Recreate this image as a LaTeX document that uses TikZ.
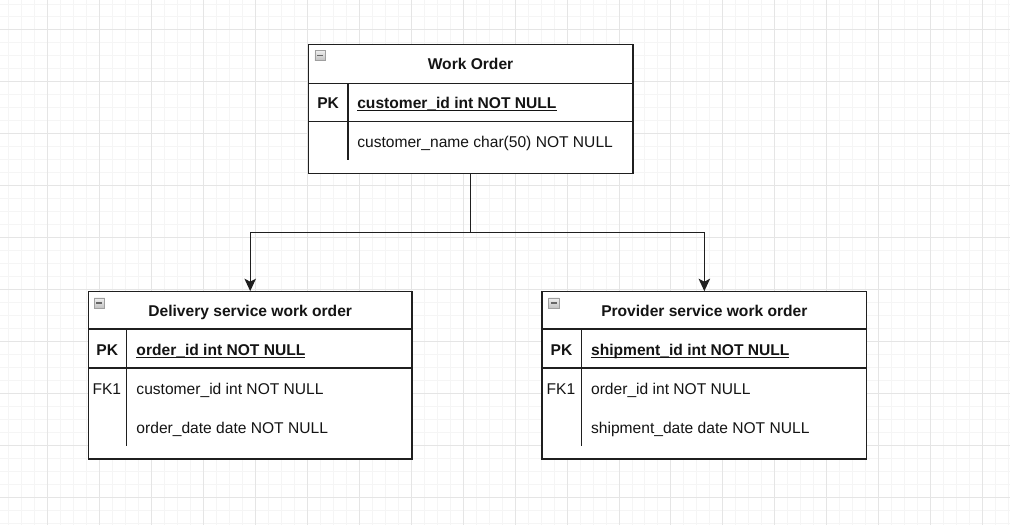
\documentclass[tikz,border=0pt]{standalone}
\usepackage{fontspec}
\setmainfont{Liberation Sans}
\usepackage{tikz}
\usetikzlibrary{arrows.meta}

% underline for primary key fields
\newcommand{\keyline}[1]{\setbox0=\hbox{#1}\rlap{\rule[-2.3pt]{\wd0}{1.2pt}}\box0}

\begin{document}
\begin{tikzpicture}[x=1pt,y=-1pt,
  txt/.style={inner sep=0pt,text=black!92,font=\fontsize{15.6}{18}\selectfont},
  tbl/.style={draw=black!88,line width=1.3pt,inner sep=0pt,outer sep=0pt},
  tline/.style={draw=black!88,line width=1.3pt},
  tabtitle/.style={txt,anchor=base,font=\fontsize{15.6}{18}\selectfont\bfseries},
  keytext/.style={txt,anchor=base,font=\fontsize{15.6}{18}\selectfont\bfseries},
  keyfield/.style={txt,anchor=base west,font=\fontsize{15.6}{18}\selectfont\bfseries},
  fktext/.style={txt,anchor=base},
  fieldtext/.style={txt,anchor=base west},
  minbox/.style={draw=gray!75,line width=0.6pt,minimum size=10.5pt,inner sep=0pt,
    top color=gray!12,bottom color=gray!50,
    path picture={\draw[black!60,line width=1.6pt]
      ([xshift=2.2pt]path picture bounding box.west) -- ([xshift=-2.2pt]path picture bounding box.east);}},
  gridminor/.style={draw=black!4,line width=0.8pt},
  gridmajor/.style={draw=black!10,line width=0.8pt},
  link/.style={draw=black!88,line width=1.4pt,-{Stealth[length=12.5pt,width=11.5pt,inset=3pt]}}]

% background grid
\fill[white] (0,0) rectangle (1010,525);
\foreach \x in {8,21,...,1010} \draw[gridminor] (\x,0) -- (\x,525);
\foreach \y in {3.5,16.5,...,525} \draw[gridminor] (0,\y) -- (1010,\y);
\foreach \x in {47,99,...,1010} \draw[gridmajor] (\x,0) -- (\x,525);
\foreach \y in {29.5,81.5,...,525} \draw[gridmajor] (0,\y) -- (1010,\y);
\useasboundingbox (0,0) rectangle (1010,525);

% Work Order
\node[tbl,fill=white,minimum width=325pt,minimum height=129pt] (wo) at (470.5,108.5) {};
\draw[tline] ([yshift=-39pt]wo.north west) -- ([yshift=-39pt]wo.north east);
\draw[tline] ([yshift=-77pt]wo.north west) -- ([yshift=-77pt]wo.north east);
\draw[tline] ([xshift=40pt,yshift=-39pt]wo.north west) -- ++(0,77);
\node[minbox] (wo-min) at (320,55) {};
\node[tabtitle] (wo-title) at (470.5,69.3) {Work Order};
\node[keytext] (wo-pk) at (328,108.3) {PK};
\node[keyfield] (wo-f1) at (357,108.3) {\keyline{customer\_id int NOT NULL}};
\node[fieldtext] (wo-f2) at (357,147.3) {customer\_name char(50) NOT NULL};

% Delivery service work order
\node[tbl,fill=white,minimum width=324pt,minimum height=168pt] (ds) at (250,375) {};
\draw[tline] ([yshift=-38pt]ds.north west) -- ([yshift=-38pt]ds.north east);
\draw[tline] ([yshift=-77pt]ds.north west) -- ([yshift=-77pt]ds.north east);
\draw[tline] ([xshift=38.5pt,yshift=-38pt]ds.north west) -- ++(0,117);
\node[minbox] (ds-min) at (99,303) {};
\node[tabtitle] (ds-title) at (250,316.3) {Delivery service work order};
\node[keytext] (ds-pk) at (107,355.3) {PK};
\node[keyfield] (ds-f1) at (136,355.3) {\keyline{order\_id int NOT NULL}};
\node[fktext] (ds-fk) at (106.5,394.3) {FK1};
\node[fieldtext] (ds-f2) at (136,394.3) {customer\_id int NOT NULL};
\node[fieldtext] (ds-f3) at (136,433.3) {order\_date date NOT NULL};

% Provider service work order
\node[tbl,fill=white,minimum width=325pt,minimum height=168pt] (ps) at (704.5,375) {};
\draw[tline] ([yshift=-38pt]ps.north west) -- ([yshift=-38pt]ps.north east);
\draw[tline] ([yshift=-77pt]ps.north west) -- ([yshift=-77pt]ps.north east);
\draw[tline] ([xshift=39.5pt,yshift=-38pt]ps.north west) -- ++(0,117);
\node[minbox] (ps-min) at (554,303) {};
\node[tabtitle] (ps-title) at (704.5,316.3) {Provider service work order};
\node[keytext] (ps-pk) at (561.5,355.3) {PK};
\node[keyfield] (ps-f1) at (591,355.3) {\keyline{shipment\_id int NOT NULL}};
\node[fktext] (ps-fk) at (561,394.3) {FK1};
\node[fieldtext] (ps-f2) at (591,394.3) {order\_id int NOT NULL};
\node[fieldtext] (ps-f3) at (591,433.3) {shipment\_date date NOT NULL};

% connectors
\coordinate (split) at (wo.south |- 0,232);
\draw[link] (wo.south) -- (split) -| (ds.north);
\draw[link] (split) -| (ps.north);
\end{tikzpicture}
\end{document}
